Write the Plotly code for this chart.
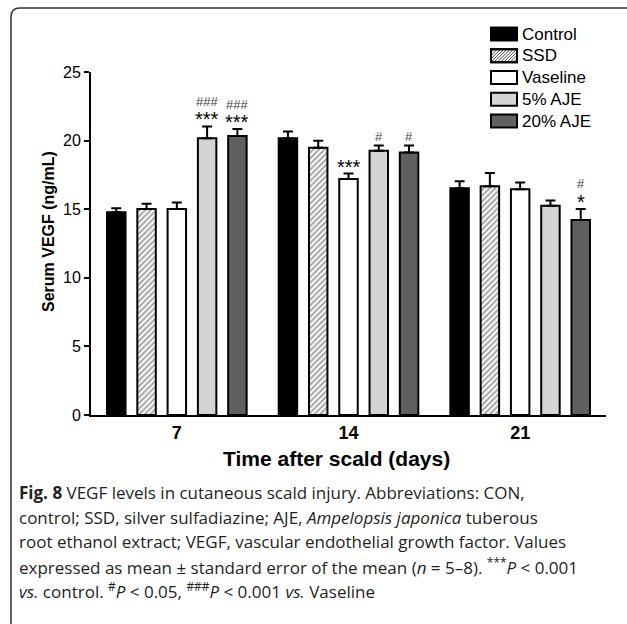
import plotly.graph_objects as go

# ---------------- data ----------------
days = ["7", "14", "21"]
series_names = ["Control", "SSD", "Vaseline", "5% AJE", "20% AJE"]
control_mean = [14.78, 20.18, 16.53]
control_sem = [0.29, 0.49, 0.51]
ssd_mean = [15.02, 19.47, 16.68]
ssd_sem = [0.37, 0.51, 0.95]
vaseline_mean = [15.02, 17.21, 16.46]
vaseline_sem = [0.46, 0.39, 0.48]
aje5_mean = [20.18, 19.26, 15.26]
aje5_sem = [0.85, 0.38, 0.37]
aje20_mean = [20.33, 19.13, 14.22]
aje20_sem = [0.51, 0.51, 0.80]
y_ticks = [0, 5, 10, 15, 20, 25]

# significance marks: (day index, series index, stars vs control, hashes vs Vaseline)
sig_marks = [
    (0, 3, "***", "###"),
    (0, 4, "***", "###"),
    (1, 2, "***", ""),
    (1, 3, "", "#"),
    (1, 4, "", "#"),
    (2, 4, "*", "#"),
]

means = [control_mean, ssd_mean, vaseline_mean, aje5_mean, aje20_mean]
sems = [control_sem, ssd_sem, vaseline_sem, aje5_sem, aje20_sem]

# ---------------- styles ----------------
W, H = 627, 624
ML, MR, MT, MB = 91, 21, 72, 209
PW, PH = W - ML - MR, H - MT - MB
BARGAP = 0.118
BARGROUPGAP = 0.39
FONT = "Arial, Liberation Sans, sans-serif"

fills = ["#000000", "#ffffff", "#ffffff", "#d4d4d4", "#606060"]


def px2x(px):
    return (px - ML) / PW


def px2y(py):
    return (H - MB - py) / PH


fig = go.Figure()
for i, name in enumerate(series_names):
    marker = dict(color=fills[i], line=dict(color="#000000", width=2))
    if name == "SSD":
        marker["pattern"] = dict(shape="/", fgcolor="#4a4a4a", bgcolor="#ffffff",
                                 size=4, solidity=0.5)
    fig.add_trace(go.Bar(
        x=days, y=means[i], name=name, marker=marker, showlegend=False,
        error_y=dict(type="data", symmetric=False, array=sems[i],
                     arrayminus=[0] * len(days), color="#000000",
                     thickness=2, width=5),
    ))

annotations = []
shapes = []
slot = (1 - BARGAP) / len(series_names)
for d, s, stars, hashes in sig_marks:
    xpos = d + (s - (len(series_names) - 1) / 2) * slot
    top = means[s][d] + sems[s][d]
    if stars:
        annotations.append(dict(x=xpos, y=top, xref="x", yref="y", text=stars,
                                showarrow=False, yanchor="middle", yshift=7,
                                font=dict(family=FONT, size=20, color="#000000")))
    if hashes:
        annotations.append(dict(x=xpos, y=top, xref="x", yref="y", text=hashes,
                                showarrow=False, yanchor="middle",
                                yshift=25 if stars else 9,
                                font=dict(family=FONT, size=13, color="#444444")))

# ---------------- legend (drawn manually: large swatches) ----------------
LEG_X0, LEG_W, LEG_H = 491, 26, 13
LEG_Y0, LEG_DY = 34, 21.75
for i, name in enumerate(series_names):
    cy = LEG_Y0 + i * LEG_DY
    sx0, sx1 = LEG_X0, LEG_X0 + LEG_W
    sy0, sy1 = cy - LEG_H / 2, cy + LEG_H / 2
    shapes.append(dict(type="rect", xref="paper", yref="paper",
                       x0=px2x(sx0), x1=px2x(sx1), y0=px2y(sy1), y1=px2y(sy0),
                       fillcolor=fills[i], line=dict(color="#000000", width=2)))
    if name == "SSD":
        # hatch lines "/" clipped to the swatch
        segs = []
        step = 3.2
        k = -LEG_H
        while k < LEG_W:
            xa, ya = sx0 + k, sy1
            xb, yb = sx0 + k + LEG_H, sy0
            if xa < sx0:
                ya = sy1 - (sx0 - xa)
                xa = sx0
            if xb > sx1:
                yb = sy0 + (xb - sx1)
                xb = sx1
            if xb > xa:
                segs.append(f"M {px2x(xa)},{px2y(ya)} L {px2x(xb)},{px2y(yb)}")
            k += step
        shapes.append(dict(type="path", xref="paper", yref="paper",
                           path=" ".join(segs),
                           line=dict(color="#4a4a4a", width=1)))
        shapes.append(dict(type="rect", xref="paper", yref="paper",
                           x0=px2x(sx0), x1=px2x(sx1), y0=px2y(sy1), y1=px2y(sy0),
                           line=dict(color="#000000", width=2)))
    annotations.append(dict(x=px2x(520), y=px2y(cy), xref="paper", yref="paper",
                            text=name, showarrow=False, xanchor="left",
                            yanchor="middle",
                            font=dict(family=FONT, size=17, color="#000000")))

# y-axis title as annotation
annotations.append(dict(x=px2x(48), y=px2y(232), xref="paper", yref="paper",
                        text="<b>Serum VEGF (ng/mL)</b>", textangle=-90,
                        showarrow=False, xanchor="center", yanchor="middle",
                        font=dict(family=FONT, size=16, color="#000000")))
# x-axis title
annotations.append(dict(x=px2x(336), y=px2y(458), xref="paper", yref="paper",
                        text="<b>Time after scald (days)</b>", showarrow=False,
                        xanchor="center", yanchor="middle",
                        font=dict(family=FONT, size=21, color="#000000")))

caption_lines = [
    "<b>Fig. 8</b> VEGF levels in cutaneous scald injury. Abbreviations: CON,",
    "control; SSD, silver sulfadiazine; AJE, <i>Ampelopsis japonica</i> tuberous",
    "root ethanol extract; VEGF, vascular endothelial growth factor. Values",
    "expressed as mean ± standard error of the mean (<i>n</i> = 5–8). <sup>***</sup><i>P</i> &lt; 0.001",
    "<i>vs.</i> control. <sup>#</sup><i>P</i> &lt; 0.05, <sup>###</sup><i>P</i> &lt; 0.001 <i>vs.</i> Vaseline",
]
caption_y = [492, 517, 541, 566, 590]
for line, cy in zip(caption_lines, caption_y):
    annotations.append(dict(x=px2x(17), y=px2y(cy), xref="paper", yref="paper",
                            text=line, showarrow=False, xanchor="left",
                            yanchor="middle", align="left",
                            font=dict(family="Open Sans, sans-serif", size=17,
                                      color="#231f20")))

# rounded frame around the figure (extends past right/bottom edge)
x0, y0 = px2x(11), px2y(8)
x1, y1 = px2x(660), px2y(660)
rx, ry = 9 / PW, 9 / PH
frame_path = f"M {x0},{y1} L {x0},{y0 - ry} Q {x0},{y0} {x0 + rx},{y0} L {x1},{y0}"
shapes.append(dict(type="path", path=frame_path, xref="paper", yref="paper",
                   line=dict(color="#333333", width=1.5)))

fig.update_layout(
    width=W, height=H,
    margin=dict(l=ML, r=MR, t=MT, b=MB),
    paper_bgcolor="#ffffff", plot_bgcolor="#ffffff",
    barmode="group", bargap=BARGAP, bargroupgap=BARGROUPGAP,
    font=dict(family=FONT, color="#000000"),
    showlegend=False,
    xaxis=dict(type="category", showline=True, linecolor="#000000", linewidth=2,
               ticks="", showgrid=False, zeroline=False,
               tickfont=dict(family=FONT, size=18, color="#000000"),
               tickprefix="<b>", ticksuffix="</b>"),
    yaxis=dict(range=[0, 25], tickvals=y_ticks, showline=True, linecolor="#000000",
               linewidth=2, ticks="outside", ticklen=5, tickwidth=2,
               tickcolor="#000000", showgrid=False, zeroline=False,
               tickfont=dict(family=FONT, size=16, color="#000000"),
               tickprefix="<b>", ticksuffix="</b>"),
    annotations=annotations,
    shapes=shapes,
)

fig.write_html("out.html",
               config={"displayModeBar": False},
               post_script="document.body.style.margin='0px';document.body.style.overflow='hidden';")
